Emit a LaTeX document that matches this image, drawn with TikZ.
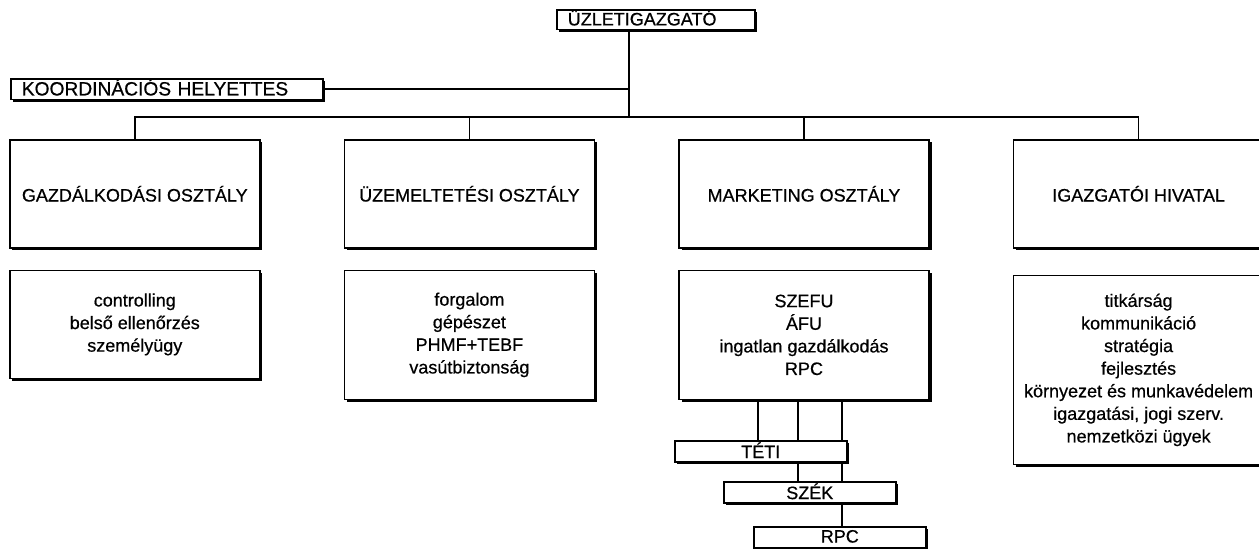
\documentclass[tikz,border=0pt]{standalone}
\usepackage{fontspec}
\setmainfont{Liberation Sans}[FakeBold=0.6]
\usetikzlibrary{positioning, shadows}
\tikzset{
  box/.style={rectangle, draw=black, line width=0.8pt, fill=white, align=center,
              font=\fontsize{9}{11.3}\selectfont, inner sep=0pt,
              drop shadow={shadow xshift=1.3pt, shadow yshift=-1.3pt, fill=black, opacity=1}},
  deptbox/.style={box, minimum width=125pt, minimum height=54pt},
  taskbox/.style={box, minimum width=125pt},
  barbox/.style={box, minimum width=86pt, minimum height=10.5pt, text depth=1pt},
  headbox/.style={box, align=left, inner xsep=5.5pt, minimum height=9.5pt, text depth=2pt},
  link/.style={line width=0.8pt, draw=black},
}
\begin{document}
\begin{tikzpicture}[x=0.5pt, y=-0.5pt]
  \useasboundingbox (0,0) rectangle (1259,549);

  %% ---- LEADERSHIP ----
  \node[headbox, text width=88pt, anchor=north west] (boss) at (556,9) {ÜZLETIGAZGATÓ};
  \node[headbox, text width=145pt, anchor=north west, font=\fontsize{9.6}{11.3}\selectfont] (koord) at (10,78) {KOORDINÁCIÓS HELYETTES};
  \coordinate (hub) at (629,117);

  \draw[link] (hub |- boss.south) -- (hub);
  \draw[link] (koord.east) -- (koord.east -| hub);

  %% ---- DEPARTMENTS ----
  \node[deptbox, anchor=north west] (gazd) at (9,139) {GAZDÁLKODÁSI OSZTÁLY};
  \node[deptbox, right=41.5pt of gazd] (uzem) {ÜZEMELTETÉSI OSZTÁLY};
  \node[deptbox, right=41.5pt of uzem] (mark) {MARKETING OSZTÁLY};
  \node[deptbox, right=41.5pt of mark] (hiv) {IGAZGATÓI HIVATAL};

  \draw[link] (gazd.north) -- (gazd.north |- hub) -- (hiv.north |- hub) -- (hiv.north);
  \draw[link] (uzem.north) -- (uzem.north |- hub);
  \draw[link] (mark.north) -- (mark.north |- hub);

  %% ---- TASKS ----
  \node[taskbox, minimum height=54pt, below=10.5pt of gazd] (gazdlist) {controlling\\belső ellenőrzés\\személyügy};
  \node[taskbox, minimum height=64.5pt, below=10.5pt of uzem] (uzemlist) {forgalom\\gépészet\\PHMF+TEBF\\vasútbiztonság};
  \node[taskbox, minimum height=64.5pt, below=10.5pt of mark] (marklist) {SZEFU\\ÁFU\\ingatlan gazdálkodás\\RPC};
  \node[taskbox, minimum height=94.5pt, below=13pt of hiv] (hivlist) {titkárság\\kommunikáció\\stratégia\\fejlesztés\\környezet és munkavédelem\\igazgatási, jogi szerv.\\nemzetközi ügyek};

  %% ---- MARKETING UNITS ----
  \node[barbox, anchor=north west] (teti) at (674,440) {TÉTI};
  \node[barbox, anchor=north west] (szek) at (723,481) {SZÉK};
  \node[barbox, anchor=north west] (rpc) at (753,526) {RPC};

  \coordinate (m1) at (758,0);
  \coordinate (m2) at (798,0);
  \coordinate (m3) at (842,0);
  \draw[link] (m1 |- marklist.south) -- (m1 |- teti.north);
  \draw[link] (m2 |- marklist.south) -- (m2 |- teti.north);
  \draw[link] (m3 |- marklist.south) -- (m3 |- teti.north);
  \draw[link] (m2 |- teti.south) -- (m2 |- szek.north);
  \draw[link] (m3 |- teti.south) -- (m3 |- szek.north);
  \draw[link] (m3 |- szek.south) -- (m3 |- rpc.north);

\end{tikzpicture}
\end{document}
